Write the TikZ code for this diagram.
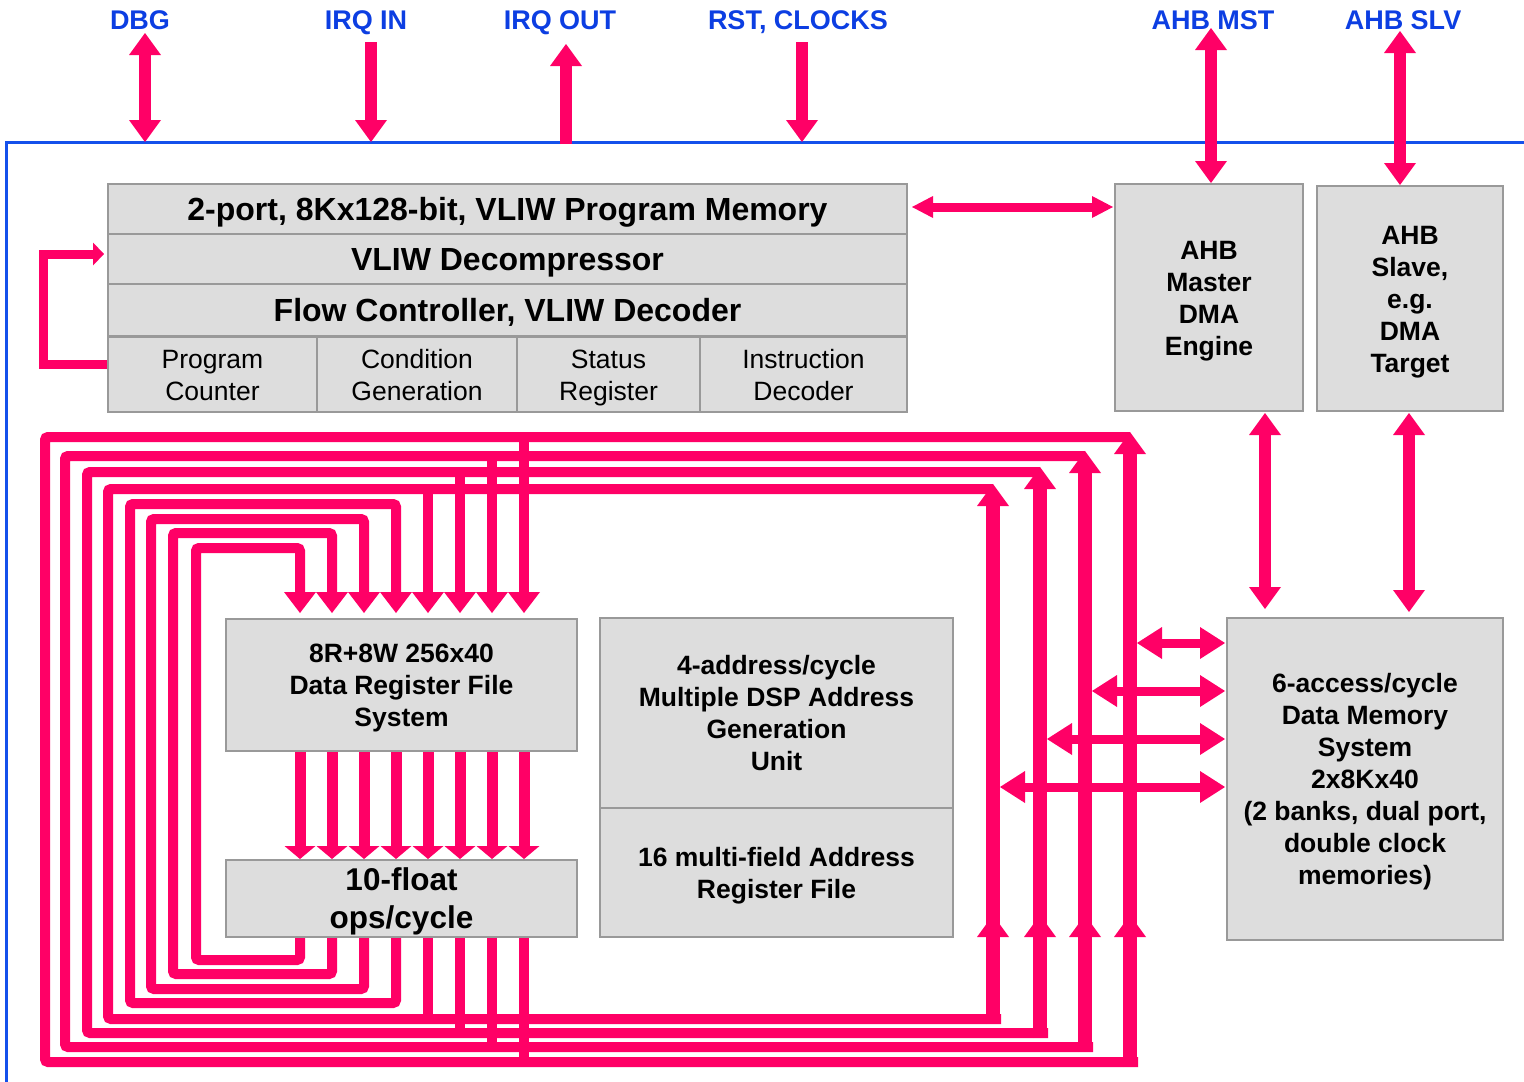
\documentclass[tikz,border=0pt]{standalone}
\usepackage{fontspec}
\setmainfont{Liberation Sans}
\usetikzlibrary{arrows.meta,calc}
\definecolor{wirec}{RGB}{255,0,102}
\definecolor{lblc}{RGB}{12,62,226}
\definecolor{framec}{RGB}{20,80,235}
\definecolor{boxfill}{RGB}{221,221,221}
\definecolor{boxline}{RGB}{153,153,153}
% struts balanced about the middle of the capitals, one per type size
\newcommand\sA{\rule[-6.5pt]{0pt}{32pt}}
\newcommand\sB{\rule[-7.5pt]{0pt}{38pt}}
\newcommand\sC{\rule[-7.7pt]{0pt}{38pt}}
\begin{document}
\begin{tikzpicture}[x=1pt,y=-1pt,
  blk/.style={draw=boxline, line width=2pt, fill=boxfill, inner sep=0pt, align=center,
              font=\bfseries\fontsize{26.5}{32}\selectfont},
  blkrow/.style={blk, font=\bfseries\fontsize{32}{38}\selectfont},
  blkbig/.style={blk, font=\bfseries\fontsize{31.5}{38}\selectfont},
  blkreg/.style={blk, font=\fontsize{26.5}{32}\selectfont},
  lbl/.style={text=lblc, font=\bfseries\fontsize{27}{30}\selectfont, inner sep=0pt, anchor=base},
  frame/.style={draw=framec, line width=3pt},
  wire/.style={draw=wirec, line width=10pt},
  riser/.style={draw=wirec, line width=14pt},
  port/.style={draw=wirec, line width=12pt},
  link/.style={draw=wirec, line width=9pt},
  fb/.style={draw=wirec, line width=9pt},
  tipL/.tip={Triangle[width=32pt,length=21pt,line width=0pt]},
  tipS/.tip={Triangle[width=31pt,length=13pt,line width=0pt]},
  tipP/.tip={Triangle[width=32pt,length=22pt,line width=0pt]},
  tipH/.tip={Triangle[width=32pt,length=25pt,line width=0pt]},
  tipM/.tip={Triangle[width=22pt,length=21pt,line width=0pt]},
  tipF/.tip={Triangle[width=23pt,length=11pt,line width=0pt]},
]
\useasboundingbox (0,0) rectangle (1524,1082);

% chip boundary
\draw[frame] (6,1082) -- (6,142) -- (1524,142);

% external interface labels
\node[lbl] (dbg)   at (140,29.5)  {DBG};
\node[lbl] (irqi)  at (366,29.5)  {IRQ IN};
\node[lbl] (irqo)  at (560,29.5)  {IRQ OUT};
\node[lbl] (rst)   at (798,29.5)  {RST, CLOCKS};
\node[lbl] (ahbm)  at (1213,29.5) {AHB MST};
\node[lbl] (ahbs)  at (1403,29.5) {AHB SLV};

% program side
\node[blkrow, minimum width=799pt, minimum height=50pt] (pm)   at (507.5,209) {\sB 2-port, 8Kx128-bit, VLIW Program Memory\sB};
\node[blkrow, minimum width=799pt, minimum height=50pt] (dec)  at (507.5,259) {\sB VLIW Decompressor\sB};
\node[blkrow, minimum width=799pt, minimum height=52pt] (flow) at (507.5,310) {\sB Flow Controller, VLIW Decoder\sB};
\node[blkreg, minimum width=209pt, minimum height=75pt] (pc)   at (212.5,374.5) {\sA Program\\Counter\sA};
\node[blkreg, minimum width=200pt, minimum height=75pt] (cg)   at (417,374.5)   {\sA Condition\\Generation\sA};
\node[blkreg, minimum width=183pt, minimum height=75pt] (sr)   at (608.5,374.5) {\sA Status\\Register\sA};
\node[blkreg, minimum width=207pt, minimum height=75pt] (idc)  at (803.5,374.5) {\sA Instruction\\Decoder\sA};

% bus interfaces
\node[blk, minimum width=188pt, minimum height=227pt] (mst) at (1209,297.5) {\sA AHB\\Master\\DMA\\Engine\sA};
\node[blk, minimum width=186pt, minimum height=225pt] (slv) at (1410,298.5) {\sA AHB\\Slave,\\e.g.\\DMA\\Target\sA};

% data path
\node[blk, minimum width=351pt, minimum height=132pt] (rf)  at (401.5,685)   {\sA 8R+8W 256x40\\Data Register File\\System\sA};
\node[blkbig, minimum width=351pt, minimum height=77pt] (fpu) at (401.5,898.5) {\sC 10-float\\ops/cycle\sC};
\node[blk, minimum width=353pt, minimum height=190pt] (agu) at (776.5,713)   {\sA 4-address/cycle\\Multiple DSP Address\\Generation\\Unit\sA};
\node[blk, minimum width=353pt, minimum height=129pt] (arf) at (776.5,872.5) {\sA 16 multi-field Address\\Register File\sA};
\node[blk, minimum width=276pt, minimum height=322pt] (dm)  at (1365,779)    {\sA 6-access/cycle\\Data Memory\\System\\2x8Kx40\\(2 banks, dual port,\\double clock\\memories)\sA};

% external ports
\draw[port, tipP-tipP] (145,33) -- (145,142);
\draw[port, -tipP] (371,42) -- (371,142);
\draw[port, -tipP] (566,144) -- (566,44);
\draw[port, -tipP] (802,42) -- (802,142);
\draw[port, tipP-tipP] (1211,28) -- (mst.north -| 1211,0);
\draw[port, tipP-tipP] (1400,31) -- (slv.north -| 1400,0);

% program memory to DMA master
\draw[link, tipM-tipM, shorten <=4pt, shorten >=1pt] (pm.east |- 0,207) -- (mst.west |- 0,207);

% program counter feedback
\draw[fb, -tipF, shorten >=3pt] (pc.west |- 0,364) -- (43,364) -- (43,254) -- (dec.west |- 0,254);

% bus interfaces to data memory
\draw[port, tipP-tipP, shorten <=1pt, shorten >=8pt] (mst.south -| 1265,0) -- (dm.north -| 1265,0);
\draw[port, tipP-tipP, shorten <=1pt, shorten >=5pt] (slv.south -| 1409,0) -- (dm.north -| 1409,0);

% register file read ports into the FPU
\foreach \c in {300,332,364,396,428,460,492,524}
  \draw[wire, line width=11pt, -tipS] (rf.south -| \c,0) -- (fpu.north -| \c,0);

% local write-back loops
\foreach \c/\l/\t/\b in {300/196/548/960, 332/173/533/974, 364/151/519/989, 396/130/504/1003}
  \draw[wire, rounded corners=3pt, -tipL, shorten >=5pt]
    (fpu.south -| \c,0) -- (\c,\b) -- (\l,\b) -- (\l,\t) -- (\c,\t) -- (rf.north -| \c,0);

% write-back loops shared with the data memory
\foreach \c/\l/\t/\b/\r in {428/108/489/1019/993, 460/87/472/1033/1040, 492/65/456/1047/1085, 524/45/437/1062/1130} {
  \draw[wire, rounded corners=3pt] (\r+8,\b) -- (\l,\b) -- (\l,\t) -- (\r,\t);
  \draw[wire] (fpu.south -| \c,0) -- (\c,\b);
  \draw[wire, -tipL, shorten >=5pt] (\c,\t-5) -- (rf.north -| \c,0);
  \draw[riser, -tipP] (\r,\b+5) -- (\r,\t-5);
  \draw[riser, -tipP] (\r,950) -- (\r,915);
}

% data memory ports
\foreach \y/\r in {643/1130, 691/1085, 739/1040, 787/993}
  \draw[link, tipH-tipH, shorten >=1pt] (\r+7,\y) -- (dm.west |- 0,\y);
\end{tikzpicture}
\end{document}
